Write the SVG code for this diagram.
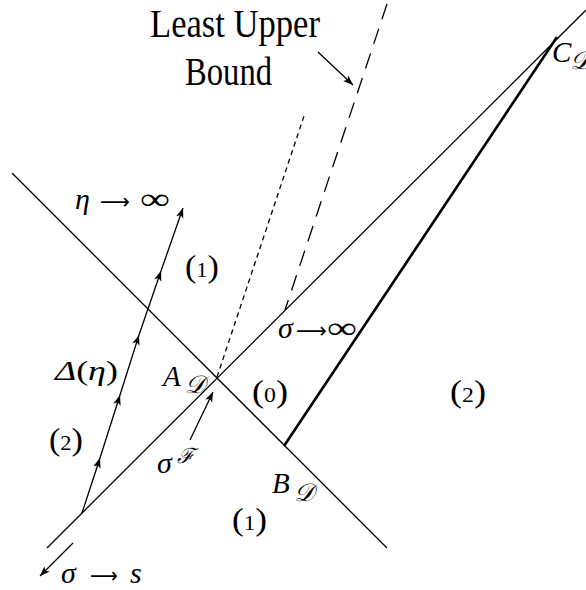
<svg xmlns="http://www.w3.org/2000/svg" width="586" height="590" viewBox="0 0 586 590">
<style>
.ln{fill:none;stroke:#000;stroke-width:1.3;stroke-linecap:butt}
.thick{fill:none;stroke:#000;stroke-width:2.6}
.t{font-family:"Liberation Serif","DejaVu Serif",serif;fill:#000}
.m{font-family:"Liberation Serif","DejaVu Serif",serif;font-style:italic;fill:#000}
.s{font-family:"DejaVu Serif","Liberation Serif",serif;font-style:italic;fill:#000}
.ar{font-family:"DejaVu Sans",sans-serif;font-size:22px;fill:#000}
</style>
<defs>
<marker id="ah" viewBox="-11 -5 12 10" markerWidth="12" markerHeight="10" refX="0" refY="0" orient="auto" markerUnits="userSpaceOnUse">
<path d="M0,0 L-10,-3.8 L-7.5,0 L-10,3.8 Z" fill="#000"/>
</marker>
</defs>
<g id="connectors">
<line class="ln" x1="12" y1="173" x2="387" y2="548"/>
<line class="ln" x1="47" y1="548" x2="586" y2="10"/>
<line class="thick" x1="284" y1="446" x2="557" y2="37"/>
<line class="ln" x1="217" y1="377" x2="305" y2="113" stroke-width="1" stroke-dasharray="5 4"/>
<line class="ln" x1="387" y1="4" x2="285" y2="310" stroke-width="1" stroke-dasharray="16 10"/>
<line class="ln" x1="318" y1="52" x2="353" y2="85" marker-end="url(#ah)"/>
<polyline class="ln" points="82,513 100,458 120,395 139,335 161,271 183,208" marker-mid="url(#ah)" marker-end="url(#ah)"/>
<line class="ln" x1="190" y1="440" x2="213" y2="392" marker-end="url(#ah)"/>
<line class="ln" x1="73" y1="543" x2="40" y2="576" stroke-width="2" marker-end="url(#ah)"/>
</g>
<g id="label-least-upper-bound">
<text class="t" x="150" y="37" font-size="40" textLength="170" lengthAdjust="spacingAndGlyphs">Least Upper</text>
<text class="t" x="185" y="85" font-size="40" textLength="87" lengthAdjust="spacingAndGlyphs">Bound</text>
</g>
<g id="label-eta-inf">
<text class="m" x="75" y="209" font-size="30">η</text>
<text class="ar" x="100" y="209" textLength="30" lengthAdjust="spacingAndGlyphs">⟶</text>
<text class="t" x="140" y="209" font-size="30" textLength="30" lengthAdjust="spacingAndGlyphs">∞</text>
</g>
<g id="region-1-upper"><text class="t" x="185" y="277" font-size="32" textLength="34" lengthAdjust="spacingAndGlyphs">(<tspan font-size="21">1</tspan>)</text></g>
<g id="label-delta"><text class="t" x="55" y="380" font-size="28" textLength="63" lengthAdjust="spacingAndGlyphs"><tspan font-style="italic">Δ</tspan>(<tspan font-style="italic">η</tspan>)</text></g>
<g id="region-2-left"><text class="t" x="49" y="450" font-size="32" textLength="34" lengthAdjust="spacingAndGlyphs">(<tspan font-size="21">2</tspan>)</text></g>
<g id="node-A">
<text class="m" x="163" y="386" font-size="29">A</text>
<text class="s" x="185" y="393" font-size="25">𝒟</text>
</g>
<g id="region-0"><text class="t" x="252" y="402" font-size="32" textLength="36" lengthAdjust="spacingAndGlyphs">(<tspan font-size="21">0</tspan>)</text></g>
<g id="label-sigmaF">
<text class="m" x="157" y="473" font-size="30">σ</text>
<text class="s" x="177" y="463" font-size="21">ℱ</text>
</g>
<g id="node-B">
<text class="m" x="272" y="493" font-size="29">B</text>
<text class="s" x="294" y="501" font-size="25">𝒟</text>
</g>
<g id="region-1-lower"><text class="t" x="232" y="530" font-size="32" textLength="35" lengthAdjust="spacingAndGlyphs">(<tspan font-size="21">1</tspan>)</text></g>
<g id="region-2-right"><text class="t" x="450" y="402" font-size="32" textLength="36" lengthAdjust="spacingAndGlyphs">(<tspan font-size="21">2</tspan>)</text></g>
<g id="label-sigma-inf">
<text class="m" x="278" y="338" font-size="30">σ</text>
<text class="ar" x="296" y="338" textLength="31" lengthAdjust="spacingAndGlyphs">⟶</text>
<text class="t" x="327" y="338" font-size="30" textLength="30" lengthAdjust="spacingAndGlyphs">∞</text>
</g>
<g id="label-sigma-s">
<text class="m" x="61" y="583" font-size="30">σ</text>
<text class="ar" x="90" y="583" textLength="28" lengthAdjust="spacingAndGlyphs">⟶</text>
<text class="m" x="130" y="583" font-size="30">s</text>
</g>
<g id="node-C">
<text class="m" x="552" y="62" font-size="29">C</text>
<text class="s" x="570" y="69" font-size="25">𝒟</text>
</g>
</svg>
